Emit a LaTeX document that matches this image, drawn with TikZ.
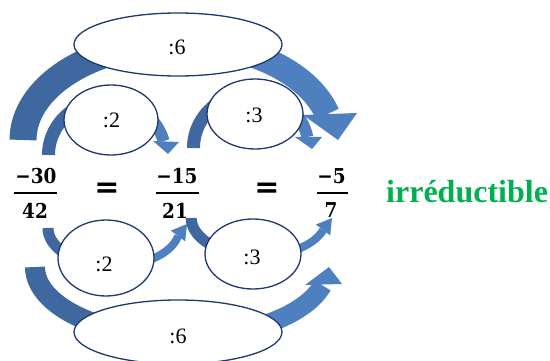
\documentclass[tikz,border=0pt]{standalone}
\usepackage{fontspec}
\setmainfont{Liberation Serif}
\newfontfamily\fracfont[FakeStretch=0.9]{DejaVu Serif}
\newfontfamily\eqfont{DejaVu Sans}
\usetikzlibrary{shapes.geometric}
\definecolor{arcdark}{RGB}{64,104,160}
\definecolor{arclight}{RGB}{78,128,192}
\definecolor{ellline}{RGB}{31,56,110}
\definecolor{irgreen}{RGB}{0,176,80}
% body of a curved block arrow: cx, cy, a, b, t0, tmid, t1, width1, width2
\newcommand\bodyarc[9]{%
  \draw[line width=#8pt, arcdark] plot[domain=#5:#6, samples=40, variable=\t] ({#1+#3*cos(\t)},{#2+#4*sin(\t)});
  \draw[line width=#9pt, arclight] plot[domain=#6:#7, samples=40, variable=\t] ({#1+#3*cos(\t)},{#2+#4*sin(\t)});
}
\begin{document}
\begin{tikzpicture}[x=1pt,y=-1pt,
  ell/.style={ellipse, draw=ellline, fill=white, line width=1.3pt, inner sep=0pt},
  lbl/.style={inner sep=0pt, font=\fontsize{22}{24}\selectfont},
  frt/.style={inner sep=0pt, font={\fracfont\fontsize{20.5}{24}\selectfont\bfseries}},
  eqs/.style={inner sep=0pt, font={\eqfont\fontsize{30}{32}\selectfont\bfseries}},
  fbar/.style={line width=2.2pt, black},
  headfill/.style={fill=arclight}]
\useasboundingbox (0,0) rectangle (550,361);

% big arrows
\bodyarc{178}{140}{155}{97}{180}{270}{344.5}{27}{25}
\fill[headfill] (303,115) -- (357,113) -- (338,140) -- cycle;
\bodyarc{181.3}{267}{146.3}{70}{180}{90}{15.3}{20}{19}
\fill[headfill] (305,285) -- (342,284) -- (329,267) -- cycle;

% small arrows
\bodyarc{107}{155}{58.5}{55}{180}{270}{345.3}{13}{12}
\fill[headfill] (153,141) -- (179,142) -- (168,154) -- cycle;
\bodyarc{251}{148}{57.5}{55}{180}{270}{348.5}{13}{12}
\fill[headfill] (295,137) -- (322,137) -- (312,149) -- cycle;
\bodyarc{113.8}{228}{65.8}{38}{180}{90}{12.2}{11}{8}
\fill[headfill] (170.8,230.6) -- (185.2,241.4) -- (187,224) -- cycle;
\bodyarc{258.9}{218}{67.7}{38}{180}{90}{18.4}{11}{8}
\fill[headfill] (315.8,224.6) -- (330.2,235.4) -- (332,218) -- cycle;

% ellipses
\node[ell, minimum width=208pt, minimum height=63pt] (e6t) at (178,44.5) {};
\node[ell, minimum width=94pt, minimum height=70pt] (e2t) at (111,120) {};
\node[ell, minimum width=96pt, minimum height=70pt] (e3t) at (255,114) {};
\node[ell, minimum width=96pt, minimum height=76pt] (e2b) at (106,258) {};
\node[ell, minimum width=96pt, minimum height=70pt] (e3b) at (253,254) {};
\node[ell, minimum width=208pt, minimum height=64pt] (e6b) at (178,332) {};

% ellipse labels
\node[lbl] (l6t) at (177,47) {:6};
\node[lbl] (l2t) at (111.5,120.5) {:2};
\node[lbl] (l3t) at (254,115.5) {:3};
\node[lbl] (l2b) at (104,264) {:2};
\node[lbl] (l3b) at (252,257) {:3};
\node[lbl] (l6b) at (178,336) {:6};

% fractions
\node[frt] (n1) at (36,176.5) {−30};
\node[frt] (d1) at (35,210.5) {42};
\draw[fbar] (14,193.3) -- (57,193.3);
\node[frt] (n2) at (177,176.5) {−15};
\node[frt] (d2) at (175,210.5) {21};
\draw[fbar] (156,193.3) -- (199,193.3);
\node[frt] (n3) at (331.5,176.5) {−5};
\node[frt] (d3) at (331,210.5) {7};
\draw[fbar] (317,193.3) -- (348,193.3);
\node[eqs] (eq1) at (107,190.5) {=};
\node[eqs] (eq2) at (267,190.5) {=};

\node[inner sep=0pt, anchor=base west, text=irgreen, font=\fontsize{32}{36}\selectfont\bfseries] (irr) at (386,202.5) {irréductible};
\end{tikzpicture}
\end{document}
